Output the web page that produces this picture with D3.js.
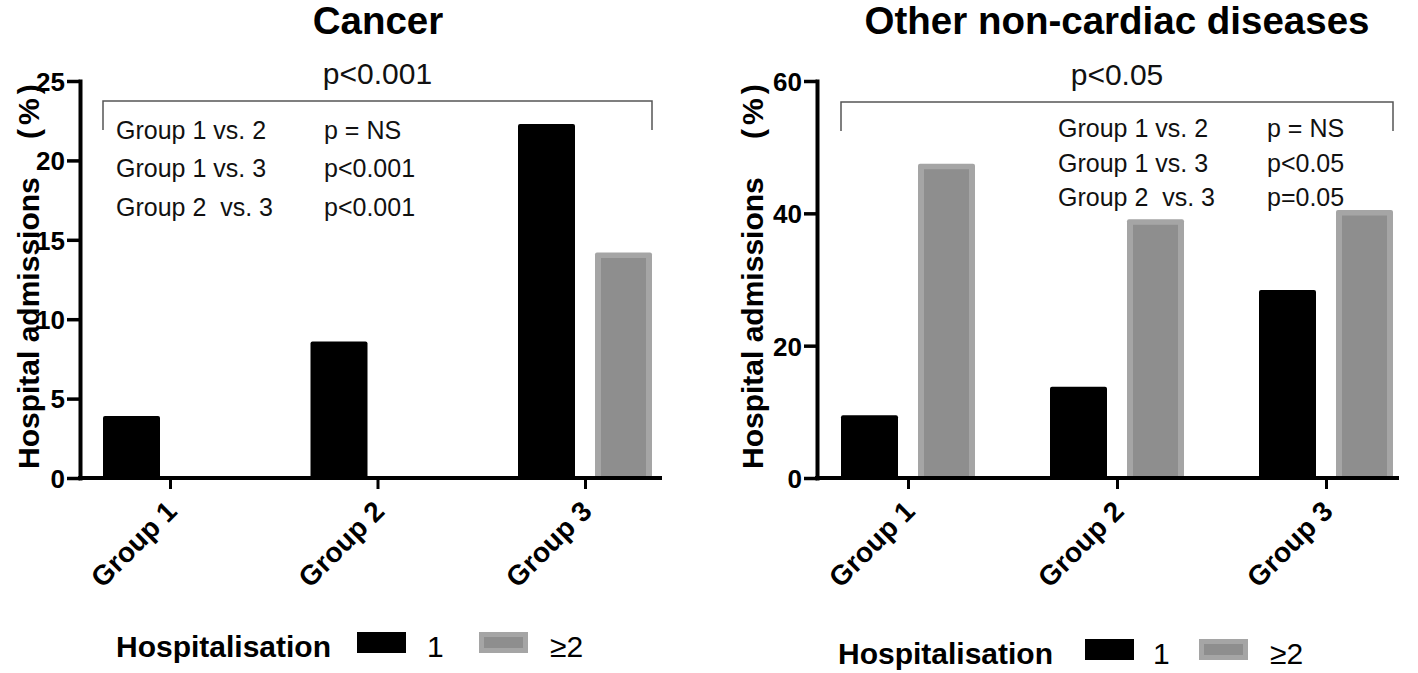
<!DOCTYPE html>
<html>
<head>
<meta charset="utf-8">
<script src="https://cdn.jsdelivr.net/npm/d3@7/dist/d3.min.js"></script>
<style>
  html, body { margin: 0; padding: 0; background: #fff; }
  svg { display: block; font-family: "Liberation Sans", Arial, Helvetica, sans-serif; }
</style>
</head>
<body>
<svg id="chart" width="1418" height="673"></svg>
<script>
// ---- data ----
const groups = ["Group 1", "Group 2", "Group 3"];
const cancerOne = [3.9, 8.6, 22.3];
const cancerTwoPlus = [0, 0, 14.2];
const otherOne = [9.5, 13.8, 28.4];
const otherTwoPlus = [47.5, 39.1, 40.5];
const cancerTicks = [0, 5, 10, 15, 20, 25];
const otherTicks = [0, 20, 40, 60];
const comparisons = ["Group 1 vs. 2", "Group 1 vs. 3", "Group 2  vs. 3"];
const cancerP = ["p = NS", "p<0.001", "p<0.001"];
const otherP = ["p = NS", "p<0.05", "p=0.05"];
const panelTitles = ["Cancer", "Other non-cardiac diseases"];
const overallP = ["p<0.001", "p<0.05"];
const legendTitle = "Hospitalisation";
const seriesNames = ["1", "\u22652"];
const yTitle = "Hospital admissions";
const yUnit = "(%)";

const svg = d3.select("#chart");
svg.append("rect").attr("width", 1418).attr("height", 673).attr("fill", "#fff");

const BLACK = "#000";
const GREY_IN = "#8e8e8e";
const GREY_OUT = "#a5a5a5";
const FONT = "Liberation Sans, Arial, sans-serif";

function panel(cfg) {
  const g = svg.append("g");
  const yB = 478, yT = 81;
  const x = d3.scalePoint().domain(groups)
    .range([cfg.x0 + cfg.first, cfg.x0 + cfg.first + 2 * cfg.step]);
  const y = d3.scaleLinear().domain([0, cfg.yMax]).range([yB, yT]);
  const bw = 57;

  // title
  g.append("text").attr("x", cfg.titleCx).attr("y", 34)
    .attr("text-anchor", "middle").attr("font-size", 38.5).attr("font-weight", "bold")
    .text(cfg.title);

  // y axis title
  const yt = g.append("g").attr("transform", `translate(${cfg.yTitleX},0)`);
  yt.append("text").attr("transform", `translate(0,${yB - 9}) rotate(-90)`)
    .attr("text-anchor", "start").attr("font-size", 30).attr("font-weight", "bold")
    .text(yTitle);
  yt.append("text").attr("transform", `translate(0,${yT + 58}) rotate(-90)`)
    .attr("text-anchor", "start").attr("font-size", 30).attr("font-weight", "bold")
    .attr("letter-spacing", 4)
    .text(yUnit);

  // bars: "1"
  g.selectAll(".b1").data(cfg.one).join("rect")
    .attr("x", (d, i) => x(groups[i]) - 67)
    .attr("y", d => y(d))
    .attr("width", bw)
    .attr("height", d => yB - y(d))
    .attr("rx", 2)
    .attr("fill", BLACK);

  // bars: ">=2" (outer border + inner fill)
  const two = cfg.two.map((v, i) => ({ v, i })).filter(d => d.v > 0);
  g.selectAll(".b2o").data(two).join("rect")
    .attr("x", d => x(groups[d.i]) + 10)
    .attr("y", d => y(d.v))
    .attr("width", bw)
    .attr("height", d => yB - y(d.v))
    .attr("rx", 2)
    .attr("fill", GREY_OUT);
  g.selectAll(".b2i").data(two).join("rect")
    .attr("x", d => x(groups[d.i]) + 16)
    .attr("y", d => y(d.v) + 5.5)
    .attr("width", bw - 12)
    .attr("height", d => yB - y(d.v) - 5.5)
    .attr("fill", GREY_IN);

  // y axis
  const ya = g.append("g").attr("transform", `translate(${cfg.x0},0)`)
    .call(d3.axisLeft(y).tickValues(cfg.ticks).tickSize(13).tickSizeOuter(0).tickPadding(2));
  ya.select(".domain").attr("stroke", "#000").attr("stroke-width", 4).attr("stroke-linecap", "square");
  ya.selectAll(".tick line").attr("stroke", "#000").attr("stroke-width", 3.5);
  ya.selectAll(".tick text").attr("font-size", 26).attr("font-weight", "bold")
    .attr("font-family", FONT).attr("fill", "#000").attr("dy", "0.36em");

  // x axis
  const xa = g.append("g").attr("transform", `translate(0,${yB})`)
    .call(d3.axisBottom(x).tickSize(11).tickSizeOuter(0));
  xa.select(".domain").remove();
  xa.append("line").attr("x1", cfg.x0 - 2).attr("x2", cfg.x0 + 582)
    .attr("y1", 0).attr("y2", 0).attr("stroke", "#000").attr("stroke-width", 4);
  xa.selectAll(".tick line").attr("stroke", "#000").attr("stroke-width", 3);
  xa.selectAll(".tick text")
    .attr("font-size", 28).attr("font-weight", "bold")
    .attr("font-family", FONT).attr("fill", "#000")
    .attr("text-anchor", "end")
    .attr("y", 0).attr("dy", 0)
    .attr("transform", "translate(8,35) rotate(-45)");

  // bracket
  const bx1 = x(groups[0]) - 67, bx2 = x(groups[groups.length - 1]) + 67;
  g.append("path")
    .attr("d", `M${bx1},${cfg.brLeg} V${cfg.brY} H${bx2} V${cfg.brLeg}`)
    .attr("fill", "none").attr("stroke", "#555").attr("stroke-width", 1.5);
  g.append("text").attr("x", (bx1 + bx2) / 2).attr("y", cfg.pY)
    .attr("text-anchor", "middle").attr("font-size", 30).attr("fill", "#111")
    .text(cfg.pText);

  // comparisons
  comparisons.forEach((c, i) => {
    g.append("text").attr("x", cfg.c1x).attr("y", cfg.cY[i])
      .attr("font-size", 25).attr("fill", "#111")
      .style("white-space", "pre").text(c);
    g.append("text").attr("x", cfg.c2x).attr("y", cfg.cY[i])
      .attr("font-size", 25).attr("fill", "#111").text(cfg.pVals[i]);
  });

  // legend
  const L = cfg.leg;
  g.append("text").attr("x", L.x).attr("y", L.y)
    .attr("font-size", 30).attr("font-weight", "bold").text(legendTitle);
  g.append("rect").attr("x", L.b1).attr("y", L.y - 25).attr("width", 49).attr("height", 21).attr("fill", BLACK);
  g.append("text").attr("x", L.t1).attr("y", L.y).attr("font-size", 30).text(seriesNames[0]);
  g.append("rect").attr("x", L.b2).attr("y", L.y - 25).attr("width", 49).attr("height", 21).attr("fill", GREY_OUT);
  g.append("rect").attr("x", L.b2 + 5).attr("y", L.y - 20).attr("width", 39).attr("height", 11).attr("fill", GREY_IN);
  g.append("text").attr("x", L.t2).attr("y", L.y).attr("font-size", 30).text(seriesNames[1]);
}

panel({
  x0: 80, first: 90, step: 207.5, yMax: 25, ticks: cancerTicks, one: cancerOne, two: cancerTwoPlus,
  title: panelTitles[0], titleCx: 378, yTitleX: 39, pText: overallP[0], pY: 84, brY: 101, brLeg: 130,
  c1x: 116, c2x: 324, cY: [139, 177, 216], pVals: cancerP,
  leg: { x: 116, y: 657, b1: 357, t1: 427, b2: 479, t2: 550 }
});
panel({
  x0: 817, first: 91, step: 209, yMax: 60, ticks: otherTicks, one: otherOne, two: otherTwoPlus,
  title: panelTitles[1], titleCx: 1117, yTitleX: 763, pText: overallP[1], pY: 85, brY: 102, brLeg: 131,
  c1x: 1058, c2x: 1267, cY: [137, 172, 206], pVals: otherP,
  leg: { x: 838, y: 664, b1: 1085, t1: 1153, b2: 1199, t2: 1270 }
});
</script>
</body>
</html>
